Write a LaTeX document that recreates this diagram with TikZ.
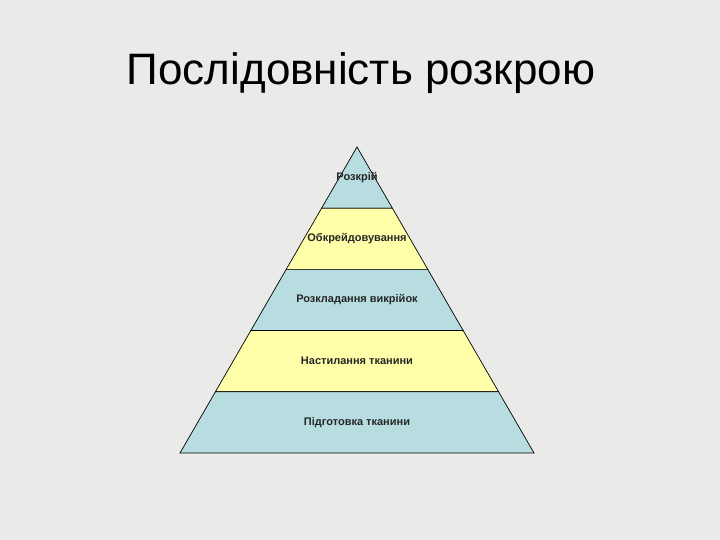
\documentclass[tikz,border=0pt]{standalone}
\usepackage{fontspec}
\setmainfont{Liberation Sans}
\usetikzlibrary{calc,positioning}
\definecolor{layerblue}{RGB}{183,221,225}
\definecolor{layeryellow}{RGB}{255,255,170}
\definecolor{slidebg}{RGB}{234,234,232}
\tikzset{
  layer/.style = {draw=black, line width=0.7pt},
  lbl/.style = {font=\fontsize{11}{13}\selectfont\bfseries, text=black!85, inner sep=1pt},
}

\begin{document}
\begin{tikzpicture}[x=1pt,y=1pt]
  \fill[slidebg] (0,0) rectangle (720,540);
  \useasboundingbox (0,0) rectangle (720,540);

  \node (title) at (361,467) {\fontsize{44}{52}\selectfont Послідовність розкрою};

  \coordinate (apex) at (357,393);
  \coordinate (bl) at (180,87);
  \coordinate (br) at (534,87);
  \coordinate (bm) at (357,87);

  \foreach \i/\col/\txt in {1/layerblue/Розкрій, 2/layeryellow/Обкрейдовування,
      3/layerblue/Розкладання викрійок, 4/layeryellow/Настилання тканини,
      5/layerblue/Підготовка тканини} {
    \pgfmathsetmacro{\ta}{(\i-1)/5}
    \pgfmathsetmacro{\tb}{\i/5}
    \pgfmathsetmacro{\tm}{(\i-0.5)/5}
    \filldraw[layer, fill=\col] ($(apex)!\ta!(bl)$) -- ($(apex)!\tb!(bl)$)
      -- ($(apex)!\tb!(br)$) -- ($(apex)!\ta!(br)$) -- cycle;
    \node[lbl] (lbl\i) at ($(apex)!\tm!(bm)$) {\txt};
  }
\end{tikzpicture}
\end{document}
